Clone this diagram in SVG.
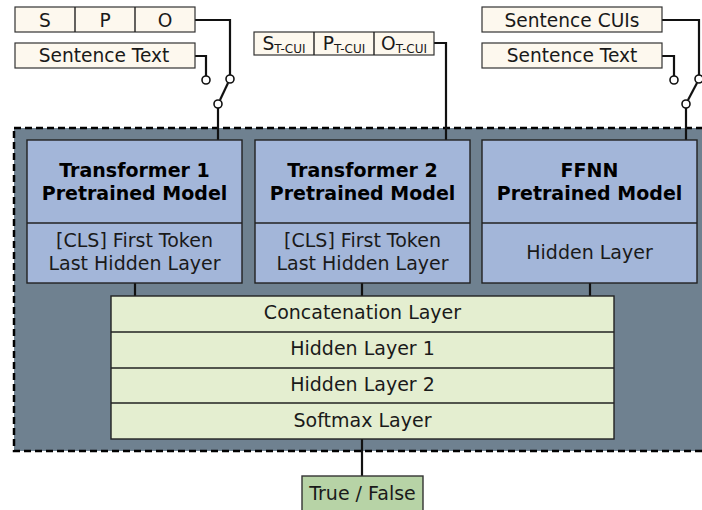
<svg xmlns="http://www.w3.org/2000/svg" width="702" height="510" viewBox="0 0 702 510">
  <style>
    text { font-family: "DejaVu Sans", "Liberation Sans", sans-serif; fill: #1a1a1a; text-anchor: middle; }
    .in { fill: #fdf8ee; stroke: #333; stroke-width: 1.2; }
    .model { fill: #a3b6d9; stroke: #222; stroke-width: 1.4; }
    .layer { fill: #e4eed0; stroke: #222; stroke-width: 1.4; }
    .out { fill: #b7d3a6; stroke: #333; stroke-width: 1.4; }
    .sep { stroke: #222; stroke-width: 1.4; }
    .wire { fill: none; stroke: #111; stroke-width: 2.2; }
    .pin { fill: #fff; stroke: #111; stroke-width: 1.6; }
    .t18 { font-size: 18.6px; }
    .t19 { font-size: 19px; }
    .bold { font-size: 19px; font-weight: bold; fill: #000; }
    .sub { font-size: 12px; }
  </style>

  <!-- shared frame around the combined model -->
  <rect id="frame" x="14" y="128" width="694" height="323" fill="#6f8190" stroke="#000" stroke-width="2.5" stroke-dasharray="7 4"/>

  <!-- connectors -->
  <g id="connectors">
    <!-- left input switch -->
    <polyline class="wire" points="195,20 230,20 230,75"/>
    <polyline class="wire" points="195,56 206,56 206,76"/>
    <line class="wire" x1="220" y1="100" x2="228" y2="83"/>
    <line class="wire" x1="218" y1="108" x2="218" y2="140"/>
    <!-- middle input -->
    <polyline class="wire" points="434,43 446,43 446,140"/>
    <!-- right input switch -->
    <polyline class="wire" points="662,20 699,20 699,75"/>
    <polyline class="wire" points="662,56 674,56 674,76"/>
    <line class="wire" x1="688" y1="100" x2="697" y2="83"/>
    <line class="wire" x1="686" y1="108" x2="686" y2="140"/>
    <!-- models to concatenation -->
    <line class="wire" x1="135" y1="283" x2="135" y2="296"/>
    <line class="wire" x1="362" y1="283" x2="362" y2="296"/>
    <line class="wire" x1="590" y1="283" x2="590" y2="296"/>
    <!-- output -->
    <line class="wire" x1="362" y1="439" x2="362" y2="476"/>
    <!-- switch contacts -->
    <circle class="pin" cx="230" cy="79" r="4"/>
    <circle class="pin" cx="206" cy="80" r="4"/>
    <circle class="pin" cx="218" cy="104" r="4"/>
    <circle class="pin" cx="699" cy="79" r="4"/>
    <circle class="pin" cx="674" cy="80" r="4"/>
    <circle class="pin" cx="686" cy="104" r="4"/>
  </g>

  <!-- inputs -->
  <g id="spo">
    <rect class="in" x="15" y="7" width="180" height="25"/>
    <line class="sep" x1="75" y1="7" x2="75" y2="32"/>
    <line class="sep" x1="135" y1="7" x2="135" y2="32"/>
    <text class="t18" x="45" y="27">S</text>
    <text class="t18" x="105" y="27">P</text>
    <text class="t18" x="165" y="27">O</text>
  </g>
  <g id="sentence-text-1">
    <rect class="in" x="15" y="43" width="180" height="25"/>
    <text class="t18" x="104" y="62">Sentence Text</text>
  </g>
  <g id="spo-cui">
    <rect class="in" x="254" y="32" width="180" height="23"/>
    <line class="sep" x1="314" y1="32" x2="314" y2="55"/>
    <line class="sep" x1="374" y1="32" x2="374" y2="55"/>
    <text x="284" y="50"><tspan class="t18">S</tspan><tspan class="sub" dy="3">T-CUI</tspan></text>
    <text x="344" y="50"><tspan class="t18">P</tspan><tspan class="sub" dy="3">T-CUI</tspan></text>
    <text x="404" y="50"><tspan class="t18">O</tspan><tspan class="sub" dy="3">T-CUI</tspan></text>
  </g>
  <g id="sentence-cuis">
    <rect class="in" x="482" y="7" width="180" height="25"/>
    <text class="t18" x="572" y="27">Sentence CUIs</text>
  </g>
  <g id="sentence-text-2">
    <rect class="in" x="482" y="43" width="180" height="25"/>
    <text class="t18" x="572" y="62">Sentence Text</text>
  </g>

  <!-- pretrained models -->
  <g id="transformer-1">
    <rect class="model" x="27" y="140" width="215" height="143"/>
    <line class="sep" x1="27" y1="223" x2="242" y2="223"/>
    <text class="bold" x="134.5" y="177">Transformer 1</text>
    <text class="bold" x="134.5" y="200">Pretrained Model</text>
    <text class="t19" x="134.5" y="247">[CLS] First Token</text>
    <text class="t19" x="134.5" y="270">Last Hidden Layer</text>
  </g>
  <g id="transformer-2">
    <rect class="model" x="255" y="140" width="215" height="143"/>
    <line class="sep" x1="255" y1="223" x2="470" y2="223"/>
    <text class="bold" x="362.5" y="177">Transformer 2</text>
    <text class="bold" x="362.5" y="200">Pretrained Model</text>
    <text class="t19" x="362.5" y="247">[CLS] First Token</text>
    <text class="t19" x="362.5" y="270">Last Hidden Layer</text>
  </g>
  <g id="ffnn">
    <rect class="model" x="482" y="140" width="215" height="143"/>
    <line class="sep" x1="482" y1="223" x2="697" y2="223"/>
    <text class="bold" x="589.5" y="177">FFNN</text>
    <text class="bold" x="589.5" y="200">Pretrained Model</text>
    <text class="t19" x="589.5" y="259">Hidden Layer</text>
  </g>

  <!-- classifier head -->
  <g id="head">
    <rect class="layer" x="111" y="296" width="503" height="143"/>
    <line class="sep" x1="111" y1="332" x2="614" y2="332"/>
    <line class="sep" x1="111" y1="368" x2="614" y2="368"/>
    <line class="sep" x1="111" y1="403" x2="614" y2="403"/>
    <text class="t19" x="362.5" y="319">Concatenation Layer</text>
    <text class="t19" x="362.5" y="355">Hidden Layer 1</text>
    <text class="t19" x="362.5" y="391">Hidden Layer 2</text>
    <text class="t19" x="362.5" y="427">Softmax Layer</text>
  </g>

  <g id="output">
    <rect class="out" x="302" y="476" width="121" height="40"/>
    <text class="t19" x="362.5" y="500">True / False</text>
  </g>
</svg>
